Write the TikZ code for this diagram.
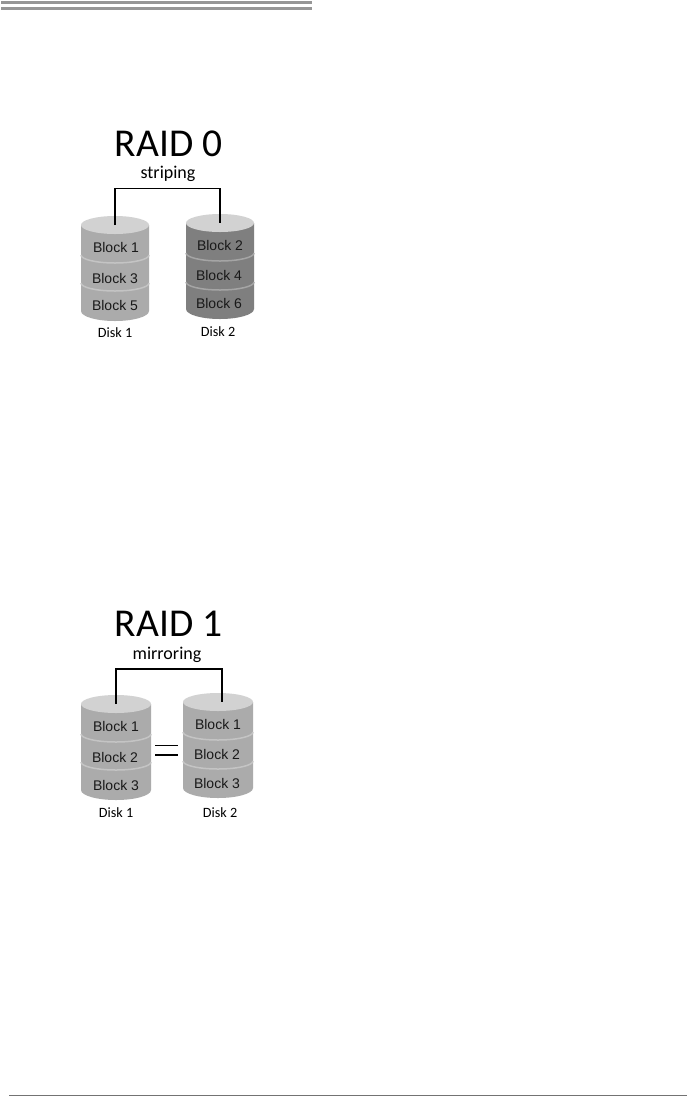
\documentclass[tikz,border=0pt]{standalone}
\usepackage{fontspec}
\setmainfont{Carlito}
\newfontfamily\blockfont{Liberation Sans}
\usetikzlibrary{shapes.geometric}
\definecolor{topgray}{HTML}{D2D2D2}
\definecolor{lightgray}{HTML}{ABABAB}
\definecolor{darkgray}{HTML}{7F7F7F}
\definecolor{bargray}{HTML}{969696}
% body of a disk: centre x, top y, bottom y, half width, fill, line y 1, line y 2
\newcommand{\diskbody}[7]{
    \fill [#5] (#1-#4,#2) -- (#1-#4,#3-10) arc [start angle=180, end angle=360, x radius=#4pt, y radius=10pt] -- (#1+#4,#2) -- cycle;
    \draw [sepline, #5!70!white] (#1-#4,#6) arc [start angle=180, end angle=360, x radius=#4pt, y radius=8pt];
    \draw [sepline, #5!70!white] (#1-#4,#7) arc [start angle=180, end angle=360, x radius=#4pt, y radius=8pt];
}
\begin{document}
\begin{tikzpicture}[x=1pt, y=-1pt]
    \tikzstyle{disktop} = [ellipse, fill=topgray, inner sep=0pt, minimum width=68pt, minimum height=18pt]
    \tikzstyle{sepline} = [line width=1.5pt]
    \tikzstyle{link} = [black, line width=1.4pt]
    \tikzstyle{title} = [inner sep=0pt, font=\fontsize{39.5}{39.5}\selectfont]
    \tikzstyle{subtitle} = [inner sep=0pt, font=\fontsize{18}{18}\selectfont]
    \tikzstyle{block} = [inner sep=0pt, text=black!90, font=\blockfont\fontsize{14}{14}\selectfont]
    \tikzstyle{disklabel} = [inner sep=0pt, font=\fontsize{14.2}{14.2}\selectfont]

    \useasboundingbox (0,0) rectangle (687,1096);
    \fill [white] (0,0) rectangle (687,1096);

    % Page rules
    \fill [bargray] (1,1) rectangle (312,4);
    \fill [bargray] (1,7) rectangle (312,10);
    \draw [black!55, line width=1pt] (9,1095.5) -- (687,1095.5);

    % RAID 0
    \node [title] (r0title) at (168.5,144) {RAID 0};
    \node [subtitle] (r0sub) at (168,174) {striping};
    \diskbody{115}{225}{321}{34}{lightgray}{255}{283}
    \diskbody{220}{223}{319}{34}{darkgray}{253}{282}
    \node [disktop] (r0d1) at (115,225) {};
    \node [disktop] (r0d2) at (220,223) {};
    \coordinate (r0bar) at (168,188.5);
    \draw [link] (r0d1.center) |- (r0bar) -| (r0d2.center);

    \node [block] (r0b1) at (116,247) {Block 1};
    \node [block] (r0b3) at (115,278) {Block 3};
    \node [block] (r0b5) at (115,305) {Block 5};
    \node [block] (r0b2) at (220,245) {Block 2};
    \node [block] (r0b4) at (219,275) {Block 4};
    \node [block] (r0b6) at (219,303) {Block 6};
    \node [disklabel] (r0l1) at (115,333) {Disk 1};
    \node [disklabel] (r0l2) at (218,332) {Disk 2};

    % RAID 1
    \node [title] (r1title) at (168.5,624) {RAID 1};
    \node [subtitle] (r1sub) at (167,655) {mirroring};
    \diskbody{116}{704}{800}{35}{lightgray}{734}{762}
    \diskbody{218}{702}{798}{35}{lightgray}{732}{761}
    \node [disktop, minimum width=70pt] (r1d1) at (116,704) {};
    \node [disktop, minimum width=70pt] (r1d2) at (218,702) {};
    \coordinate (r1bar) at (169,669);
    \draw [link] (r1d1.center) |- (r1bar) -| ([xshift=4pt]r1d2.center);

    \coordinate (eqa) at (155,745);
    \coordinate (eqb) at (178,745);
    \coordinate (eqc) at (155,755);
    \coordinate (eqd) at (178,755);
    \draw [black, line width=0.7pt] (eqa) -- (eqb);
    \draw [black, line width=1.3pt] (eqc) -- (eqd);

    \node [block] (r1b1) at (116,726) {Block 1};
    \node [block] (r1b2) at (115,757) {Block 2};
    \node [block] (r1b3) at (116,785) {Block 3};
    \node [block] (r1c1) at (218,724) {Block 1};
    \node [block] (r1c2) at (217,754) {Block 2};
    \node [block] (r1c3) at (217,783) {Block 3};
    \node [disklabel] (r1l1) at (116,813) {Disk 1};
    \node [disklabel] (r1l2) at (220,813) {Disk 2};
\end{tikzpicture}
\end{document}
